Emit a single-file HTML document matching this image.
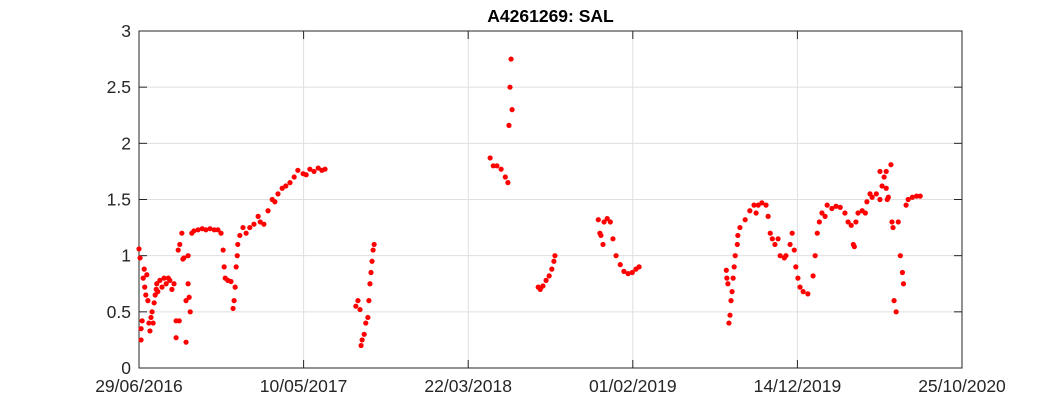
<!DOCTYPE html>
<html><head><meta charset="utf-8"><style>
body{margin:0;background:#fff;}
svg{display:block;font-family:"Liberation Sans",Arial,sans-serif;}
</style></head><body>
<svg id="chart" width="1063" height="413" viewBox="0 0 1063 413"></svg>
<script>
const xTickLabels=["29/06/2016","10/05/2017","22/03/2018","01/02/2019","14/12/2019","25/10/2020"];
const xTickDays=[0,315,630,945,1260,1575];
const yTicks=[0,0.5,1,1.5,2,2.5,3];
const days=[0,2,4,4,6,8,10,11,13,15,17,19,21,23,25,27,29,31,33,34,36,40,44,48,52,56,59,63,67,71,71,75,77,78,82,84,86,90,90,94,94,96,98,101,105,113,121,128,136,144,151,157,161,163,165,170,176,180,182,184,186,188,189,193,199,205,212,220,228,232,239,247,255,260,266,274,281,289,297,304,314,320,327,335,343,350,356,
415,419,423,425,427,431,434,438,440,442,444,446,448,450,
672,678,685,693,701,706,708,710,712,714,
764,768,773,779,785,790,794,796,
879,882,884,888,890,896,902,907,913,921,928,936,944,951,957,
1124,1125,1127,1129,1131,1133,1135,1137,1139,1141,1145,1146,1150,1160,1169,1177,1181,1185,1192,1200,1204,1208,1212,1217,1223,1227,1235,1238,1246,1250,1254,1257,1261,1265,1271,1280,1290,1294,1298,1302,1307,1313,1317,1326,1334,1342,1351,1357,1363,1367,1369,1372,1376,1384,1390,1393,1399,1403,1411,1418,1418,1422,1426,1430,1430,1432,1434,1439,1441,1443,1445,1449,1453,1457,1461,1463,1468,1472,1480,1488,1495];
const sal=[1.06,0.98,0.25,0.35,0.42,0.8,0.88,0.72,0.65,0.83,0.6,0.4,0.33,0.45,0.5,0.4,0.58,0.65,0.7,0.75,0.68,0.78,0.72,0.8,0.75,0.8,0.78,0.7,0.75,0.42,0.27,1.05,0.42,1.1,1.2,0.97,0.98,0.6,0.23,0.75,1.0,0.63,0.5,1.2,1.22,1.23,1.24,1.23,1.24,1.23,1.23,1.2,1.05,0.9,0.8,0.78,0.77,0.53,0.6,0.72,0.9,1.0,1.1,1.18,1.25,1.2,1.25,1.28,1.35,1.3,1.28,1.4,1.5,1.48,1.55,1.6,1.62,1.65,1.7,1.76,1.73,1.72,1.77,1.75,1.78,1.76,1.77,
0.55,0.6,0.52,0.2,0.25,0.3,0.4,0.45,0.6,0.75,0.85,0.95,1.05,1.1,
1.87,1.8,1.8,1.77,1.7,1.65,2.16,2.5,2.75,2.3,
0.72,0.7,0.73,0.78,0.82,0.88,0.95,1.0,
1.32,1.2,1.18,1.1,1.3,1.33,1.3,1.15,1.0,0.92,0.86,0.84,0.85,0.88,0.9,
0.87,0.8,0.75,0.4,0.47,0.6,0.68,0.8,0.9,1.0,1.1,1.18,1.25,1.32,1.4,1.45,1.38,1.45,1.47,1.45,1.35,1.2,1.15,1.1,1.15,1.0,0.98,1.0,1.1,1.2,1.05,0.9,0.8,0.72,0.68,0.66,0.82,1.0,1.2,1.3,1.38,1.35,1.45,1.42,1.44,1.43,1.38,1.3,1.27,1.1,1.08,1.3,1.38,1.4,1.38,1.48,1.55,1.52,1.55,1.5,1.75,1.62,1.7,1.6,1.75,1.5,1.52,1.81,1.3,1.25,0.6,0.5,1.3,1.0,0.85,0.75,1.45,1.5,1.52,1.53,1.53];

const NS="http://www.w3.org/2000/svg";
const svg=document.getElementById('chart');
const L=139,R=962,T=31,B=368;
const xs=d=>L+(d-0)/(1575-0)*(R-L);
const ys=v=>B-(v/3)*(B-T);
function el(t,a){const e=document.createElementNS(NS,t);for(const k in a)e.setAttribute(k,a[k]);svg.appendChild(e);return e;}
const bg=el('rect',{x:L,y:T,width:R-L,height:B-T,fill:'#fff'});


xTickDays.forEach((d,i)=>{
  const g=el('line',{x1:xs(d),x2:xs(d),y1:T,y2:B,stroke:'#dfdfdf','stroke-width':1});
  
  
  el('line',{x1:xs(d),x2:xs(d),y1:B,y2:B-8,stroke:'#262626'});
  el('line',{x1:xs(d),x2:xs(d),y1:T,y2:T+8,stroke:'#262626'});
  const t=el('text',{x:xs(d),y:392,'text-anchor':'middle','font-size':17.5,fill:'#262626'});
  t.textContent=xTickLabels[i];
  
  
});
yTicks.forEach(v=>{
  const g=el('line',{x1:L,x2:R,y1:ys(v),y2:ys(v),stroke:'#dfdfdf','stroke-width':1});
  
  
  el('line',{x1:L,x2:L+8,y1:ys(v),y2:ys(v),stroke:'#262626'});
  el('line',{x1:R,x2:R-8,y1:ys(v),y2:ys(v),stroke:'#262626'});
  const t=el('text',{x:L-8,y:ys(v)+6,'text-anchor':'end','font-size':17.5,fill:'#262626'});
  t.textContent=String(v);
  
  
});
const fr=el('rect',{x:L,y:T,width:R-L,height:B-T,fill:'none',stroke:'#262626','stroke-width':1});


days.forEach((d,i)=>{
  const c=el('circle',{cx:xs(d),cy:ys(sal[i]),r:2.6,fill:'#ff0000'});
  
  
});
const ti=el('text',{x:(L+R)/2,y:22,'text-anchor':'middle','font-size':17.5,'font-weight':'bold',fill:'#000'});
ti.textContent="A4261269: SAL";


</script>
</body></html>
